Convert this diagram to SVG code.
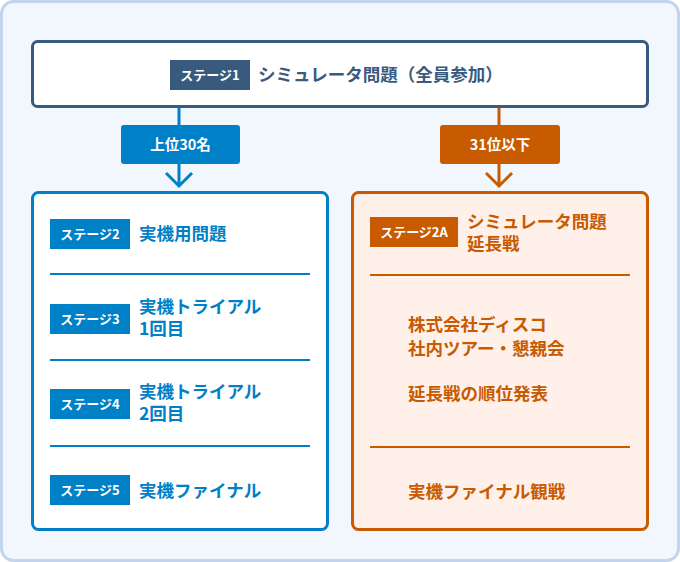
<svg xmlns="http://www.w3.org/2000/svg" width="680" height="562" viewBox="0 0 680 562">
<style>
text{font-family:"Noto Sans CJK JP","Noto Sans",sans-serif;font-weight:bold}
.tag{font-size:13px;fill:#fff}
.b{fill:#0080c6;font-size:17.5px}
.o{fill:#c85a00;font-size:17.5px}
.bl{stroke:#0080c6;stroke-width:2}
.ol{stroke:#c85a00;stroke-width:2}
</style>
<rect x="1.5" y="1.5" width="677" height="559" rx="12" fill="#f2f7fe" stroke="#c3d5ec" stroke-width="3"/>
<g id="connectors" fill="none" stroke-width="3">
<path d="M179 107V186M166 173l13 13 13-13" stroke="#0080c6"/>
<path d="M499 107V186M486 173l13 13 13-13" stroke="#c85a00"/>
</g>
<g id="stage1">
<rect x="32.5" y="41.5" width="615" height="65" rx="5" fill="#fff" stroke="#385a7e" stroke-width="3"/>
<rect x="170" y="60" width="80" height="30" fill="#385a7e"/>
<text x="210" y="80" class="tag" text-anchor="middle">ステージ1</text>
<text x="258" y="81" font-size="17.5" fill="#385a7e">シミュレータ問題（全員参加）</text>
</g>
<g id="label-top30">
<rect x="121" y="125" width="119" height="39" rx="3" fill="#0080c6"/>
<text x="180.5" y="150" font-size="14.5" fill="#fff" text-anchor="middle">上位30名</text>
</g>
<g id="label-31">
<rect x="440" y="125" width="120" height="39" rx="3" fill="#c85a00"/>
<text x="500" y="150" font-size="14.5" fill="#fff" text-anchor="middle">31位以下</text>
</g>
<g id="left-box">
<rect x="32.5" y="192.5" width="295" height="337" rx="6" fill="#fff" stroke="#0080c6" stroke-width="3"/>
<line x1="50" y1="274" x2="310" y2="274" class="bl"/>
<line x1="50" y1="360" x2="310" y2="360" class="bl"/>
<line x1="50" y1="446" x2="310" y2="446" class="bl"/>
<rect x="50" y="219" width="80" height="30" fill="#0080c6"/>
<text x="90" y="239" class="tag" text-anchor="middle">ステージ2</text>
<text x="139" y="240" class="b">実機用問題</text>
<rect x="50" y="304" width="80" height="30" fill="#0080c6"/>
<text x="90" y="324" class="tag" text-anchor="middle">ステージ3</text>
<text x="139" y="313" class="b">実機トライアル</text>
<text x="139" y="335" class="b">1回目</text>
<rect x="50" y="389" width="80" height="30" fill="#0080c6"/>
<text x="90" y="409" class="tag" text-anchor="middle">ステージ4</text>
<text x="139" y="398" class="b">実機トライアル</text>
<text x="139" y="420" class="b">2回目</text>
<rect x="50" y="475" width="80" height="30" fill="#0080c6"/>
<text x="90" y="495" class="tag" text-anchor="middle">ステージ5</text>
<text x="139" y="497" class="b">実機ファイナル</text>
</g>
<g id="right-box">
<rect x="352.5" y="192.5" width="295" height="337" rx="6" fill="#fff0ea" stroke="#c85a00" stroke-width="3"/>
<line x1="370" y1="275" x2="630" y2="275" class="ol"/>
<line x1="370" y1="447" x2="630" y2="447" class="ol"/>
<rect x="370" y="217" width="88" height="30" fill="#c85a00"/>
<text x="414" y="237" class="tag" text-anchor="middle">ステージ2A</text>
<text x="467" y="228" class="o">シミュレータ問題</text>
<text x="467" y="250" class="o">延長戦</text>
<text x="408" y="331" class="o">株式会社ディスコ</text>
<text x="408" y="355" class="o">社内ツアー・懇親会</text>
<text x="408" y="400" class="o">延長戦の順位発表</text>
<text x="408" y="498" class="o">実機ファイナル観戦</text>
</g>
</svg>
